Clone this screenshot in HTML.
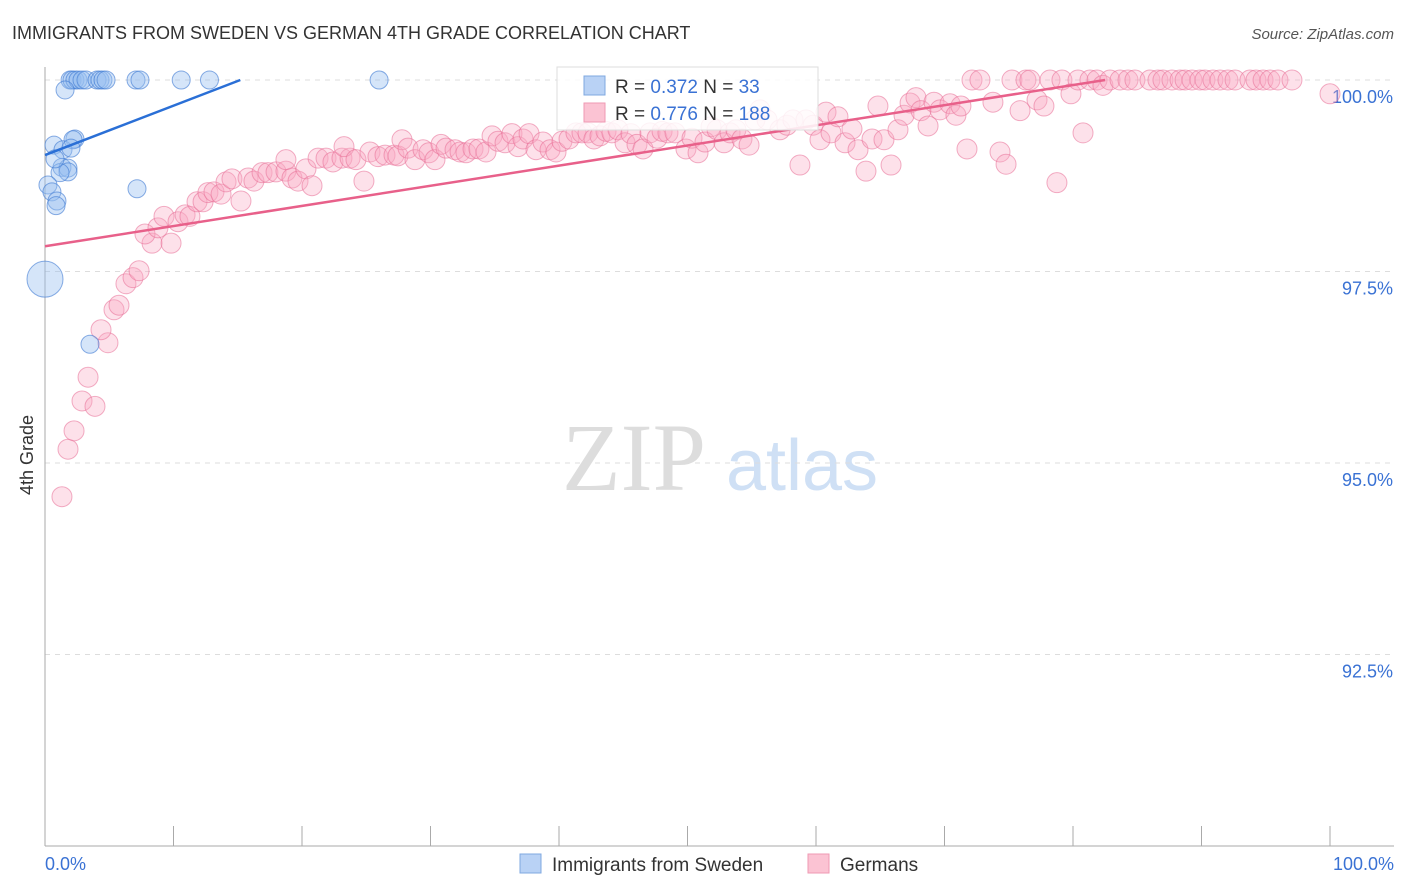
<!DOCTYPE html>
<html><head><meta charset="utf-8"><style>
body{margin:0;background:#fff;font-family:"Liberation Sans",sans-serif;}
svg{display:block}
</style></head><body>
<svg id="c" width="1406" height="892" xmlns="http://www.w3.org/2000/svg">
<text x="12" y="39" font-size="18" fill="#333">IMMIGRANTS FROM SWEDEN VS GERMAN 4TH GRADE CORRELATION CHART</text>
<text x="1394" y="39" font-size="15" fill="#555" text-anchor="end" font-style="italic">Source: ZipAtlas.com</text>
<text x="33" y="455" font-size="18" fill="#333" transform="rotate(-90 33 455)" text-anchor="middle">4th Grade</text>
<g>
<text x="634" y="490" font-size="96" fill="#ddd" font-family="Liberation Serif,serif" text-anchor="middle">ZIP</text>
<text x="802" y="490" font-size="72" fill="#cfe0f5" text-anchor="middle">atlas</text>
</g>
<g id="grid"></g><g id="pts"></g><g id="lines"></g>
<g>
<rect x="557" y="67" width="261" height="63" fill="#fff" fill-opacity="0.85" stroke="#ddd"/>
<rect x="584" y="76" width="21" height="19" fill="#b9d2f5" stroke="#7fa8e0"/>
<rect x="584" y="103" width="21" height="19" fill="#fbc3d3" stroke="#ef9ab3"/>
<text x="615" y="93" font-size="19" fill="#333">R = <tspan fill="#3a72d4">0.372</tspan>   N = <tspan fill="#3a72d4">  33</tspan></text>
<text x="615" y="120" font-size="19" fill="#333">R = <tspan fill="#3a72d4">0.776</tspan>   N = <tspan fill="#3a72d4">188</tspan></text>
</g>
<g>
<rect x="520" y="854" width="21" height="19" fill="#b9d2f5" stroke="#7fa8e0"/>
<text x="552" y="871" font-size="19" fill="#333">Immigrants from Sweden</text>
<rect x="808" y="854" width="21" height="19" fill="#fbc3d3" stroke="#ef9ab3"/>
<text x="840" y="871" font-size="19" fill="#333">Germans</text>
</g>
</svg>
<script>
const yTicks=[100,97.5,95,92.5];
const yTickLabels=["100.0%","97.5%","95.0%","92.5%"];
const xTickCount=10;
const swedenX=[1.95,2.1,2.33,2.57,2.88,3.19,4.05,4.28,4.51,4.75,7.08,7.39,10.6,12.8,26.0,1.56,0.7,2.33,1.4,1.32,1.79,1.79,1.17,0.78,0.23,0.54,0.93,0.86,7.16,3.5,2.18,2.02];
const swedenY=[100,100,100,100,100,100,100,100,100,100,100,100,100,100,100,99.87,99.15,99.23,99.09,98.86,98.85,98.8,98.79,98.97,98.63,98.54,98.42,98.36,98.58,96.55,99.22,99.11];
const swedenBigX=[0];
const swedenBigY=[97.4];
const germanX=[1.32,1.79,2.26,2.88,3.89,3.35,4.9,4.36,5.37,5.76,6.3,6.85,7.32,8.33,7.78,9.81,8.79,9.26,10.35,10.9,11.28,11.83,12.3,12.68,13.15,13.7,14.09,14.55,15.25,15.8,16.26,16.89,17.35,17.98,18.75,19.22,19.69,20.31,20.78,18.75,21.25,21.87,22.41,23.11,23.74,23.27,24.2,24.82,25.29,25.91,26.46,27.16,27.47,27.78,28.25,28.79,29.42,29.88,30.35,30.82,31.21,31.91,32.3,32.76,33.31,33.77,34.32,34.79,35.25,35.8,36.34,36.81,37.2,37.67,38.21,38.75,39.3,39.77,40.23,40.78,41.32,41.79,42.26,42.72,43.19,43.66,44.12,44.59,45.14,45.6,46.07,46.54,47.08,47.63,48.02,48.48,49.03,49.88,50.35,50.82,51.36,51.83,52.3,52.84,53.31,53.77,54.24,54.79,55.25,55.64,56.19,57.2,57.74,58.21,58.75,59.22,59.77,60.31,60.78,61.17,61.71,62.26,62.8,63.27,63.89,64.36,64.82,65.29,65.84,66.38,66.85,67.32,67.78,68.17,68.72,69.18,69.65,70.43,70.89,71.28,71.75,72.14,72.76,73.77,74.32,74.79,75.25,75.88,76.34,76.65,77.2,77.74,78.21,78.75,79.14,79.84,80.39,80.78,81.32,81.87,82.33,82.88,83.66,84.28,84.82,85.99,86.61,87.0,87.7,88.33,88.72,89.26,89.88,90.27,90.89,91.44,92.06,92.61,93.77,94.24,94.79,95.33,95.95,97.04,100];
const germanY=[94.56,95.18,95.42,95.81,95.74,96.12,96.57,96.74,97.0,97.06,97.34,97.42,97.51,97.87,97.99,97.87,98.07,98.22,98.15,98.24,98.22,98.41,98.41,98.53,98.54,98.51,98.67,98.71,98.42,98.72,98.68,98.79,98.79,98.80,98.81,98.72,98.68,98.84,98.62,98.96,98.98,98.98,98.93,98.98,98.98,99.13,98.96,98.68,99.06,99.0,99.02,99.02,99.01,99.22,99.11,98.96,99.09,99.05,98.96,99.16,99.11,99.09,99.06,99.05,99.10,99.10,99.06,99.27,99.20,99.18,99.30,99.13,99.23,99.30,99.09,99.19,99.09,99.06,99.20,99.23,99.31,99.31,99.31,99.23,99.27,99.33,99.31,99.35,99.18,99.30,99.16,99.10,99.31,99.24,99.33,99.31,99.31,99.10,99.24,99.05,99.19,99.39,99.35,99.18,99.31,99.35,99.23,99.15,99.48,99.61,99.48,99.35,99.41,99.48,98.89,99.48,99.41,99.22,99.58,99.31,99.52,99.18,99.36,99.09,98.81,99.23,99.66,99.22,98.89,99.35,99.54,99.70,99.77,99.60,99.40,99.71,99.61,99.69,99.54,99.66,99.10,100,100,99.71,99.06,98.90,100,99.60,100,100,99.74,99.66,100,98.66,100,99.82,100,99.31,100,100,99.93,100,100,100,100,100,100,100,100,100,100,100,100,100,100,100,100,100,100,100,100,100,100,100,99.82];
const swedenTrendX=[0,15.2];
const swedenTrendY=[99.02,100];
const germanTrendX=[0,82.5];
const germanTrendY=[97.83,100];

const X0=45,X1=1330,YTOP=80,YBOT=846,VMIN=90,VMAX=100;
const sx=v=>X0+(v/100)*(X1-X0);
const sy=v=>YBOT-(v-VMIN)/(VMAX-VMIN)*(YBOT-YTOP);
const NS="http://www.w3.org/2000/svg";
function mk(tag,attrs,parent){const e=document.createElementNS(NS,tag);for(const k in attrs)e.setAttribute(k,attrs[k]);parent.appendChild(e);return e;}
const grid=document.getElementById('grid');
yTicks.forEach((t,i)=>{
 const g=mk('line',{x1:X0,x2:1394,y1:sy(t),y2:sy(t),stroke:'#ddd','stroke-dasharray':'5,5'},grid);
 
 
 const l=mk('text',{x:1393,y:sy(t)+23,'font-size':18,fill:'#3a72d4','text-anchor':'end'},grid);
 l.textContent=yTickLabels[i];
 
 
});
const ya=mk('line',{x1:X0,x2:X0,y1:67,y2:YBOT,stroke:'#aaa'},grid);


const xa=mk('line',{x1:X0,x2:1394,y1:YBOT,y2:YBOT,stroke:'#aaa'},grid);


for(let i=0;i<=xTickCount;i++){
 const v=i*100/xTickCount;
 const t=mk('line',{x1:sx(v),x2:sx(v),y1:YBOT,y2:826,stroke:'#aaa'},grid);
 
 
}
const xl0=mk('text',{x:45,y:870,'font-size':18,fill:'#3a72d4'},grid);xl0.textContent='0.0%';


const xl1=mk('text',{x:1394,y:870,'font-size':18,fill:'#3a72d4','text-anchor':'end'},grid);xl1.textContent='100.0%';



const pts=document.getElementById('pts');
germanX.forEach((x,i)=>{
 const c=mk('circle',{cx:sx(x),cy:sy(germanY[i]),r:10,fill:'rgba(248,170,195,0.35)',stroke:'rgba(232,110,150,0.55)','stroke-width':1},pts);
 
 
});
swedenX.forEach((x,i)=>{
 const c=mk('circle',{cx:sx(x),cy:sy(swedenY[i]),r:9,fill:'rgba(150,190,240,0.4)',stroke:'rgba(60,120,210,0.6)','stroke-width':1},pts);
 
 
});
swedenBigX.forEach((x,i)=>{
 const c=mk('circle',{cx:sx(x),cy:sy(swedenBigY[i]),r:18,fill:'rgba(150,190,240,0.4)',stroke:'rgba(60,120,210,0.6)','stroke-width':1},pts);
 
 
});
const lines=document.getElementById('lines');
const bl=mk('line',{x1:sx(swedenTrendX[0]),y1:sy(swedenTrendY[0]),x2:sx(swedenTrendX[1]),y2:sy(swedenTrendY[1]),stroke:'#2a6fd6','stroke-width':2.5},lines);


const pl=mk('line',{x1:sx(germanTrendX[0]),y1:sy(germanTrendY[0]),x2:sx(germanTrendX[1]),y2:sy(germanTrendY[1]),stroke:'#e8608a','stroke-width':2.5},lines);


</script>
</body></html>
